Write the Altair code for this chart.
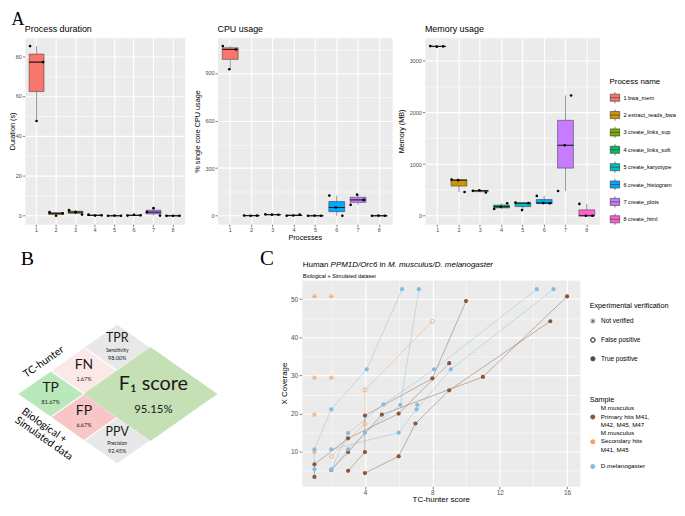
import altair as alt
import pandas as pd

FONT = "Liberation Sans"
SERIF = "Liberation Serif"
DIAG_FONT = "Lato"
PANEL_BG = "#EBEBEB"
TICK_GREY = "#333333"
LABEL_GREY = "#4D4D4D"

# ---------------- Panel A data ----------------
proc_ids = [1, 2, 3, 4, 5, 6, 7, 8]
proc_names = ["1 bwa_mem", "2 extract_reads_bwa", "3 create_links_sup", "4 create_links_soft",
              "5 create_karyotype", "6 create_histogram", "7 create_plots", "8 create_html"]
proc_colors = ["#F8766D", "#CD9600", "#7CAE00", "#00BE67", "#00BFC4", "#00A9FF", "#C77CFF", "#FF61CC"]
run_ids = [1, 2, 3]
duration_s = [[85, 47.5, 77], [1.8, 0.0, 1.2], [2.8, 1.8, 0.6], [0.6, 0.1, 0.2],
              [0.0, 0.1, 0.0], [0.1, 0.5, 0.2], [1.8, 3.8, 0.1], [0.0, 0.0, 0.0]]
cpu_pct = [[1069, 923, 1048], [2, 0, 1], [9, 7, 6], [0, 2, 8],
           [0, 1, 0], [127, 52, 0], [69, 133, 100], [0, 1, 0]]
memory_mb = [[3285, 3275, 3280], [700, 690, 460], [485, 495, 450], [130, 175, 240],
             [255, 110, 245], [385, 245, 240], [480, 1365, 2330], [230, 0, 0]]

# ---------------- Panel B data ----------------
cell_names = ["TP", "FN", "FP", "TPR", "PPV", "F1"]
cell_u = [0, 1, 1, 2, 2, 3]
cell_v = [0, 1, -1, 2, -2, 0]
cell_kind = ["cell", "cell", "cell", "cell", "cell", "big"]
cell_colors = ["#B9E9BA", "#FDE8E8", "#F8C6C6", "#E8E8E8", "#E8E8E8", "#C5E0B4"]
cell_label = ["TP", "FN", "FP", "TPR", "PPV", "F\u2081 score"]
cell_sub = ["", "", "", "Sensitivity", "Precision", ""]
cell_pct = ["81.67%", "1.67%", "6.67%", "98.00%", "92.45%", "95.15%"]

# ---------------- Panel C data ----------------
S_PRIM = "M.musculus\nPrimary hits M41,\nM42, M45, M47"
S_SEC = "M.musculus\nSecondary hits\nM41, M45"
S_DMEL = "D.melanogaster"
sample_names = [S_PRIM, S_SEC, S_DMEL]
sample_colors = ["#87573A", "#F5A15E", "#84BCE0"]
verif_names = ["Not verified", "False positive", "True positive"]

primary_lines = [
    [(1, 3.4), (1, 6.7), (3, 13.5), (6, 20.0), (9, 33.2)],
    [(4, 4.4), (6, 8.8), (7, 17.4), (9, 26.1), (15, 44.2)],
    [(3, 5.0), (4, 9.9), (4, 19.5), (8, 29.2), (10, 49.5)],
    [(2, 5.2), (3, 9.9), (5, 19.7), (11, 29.6), (16, 50.7)],
]
secondary_fp_lines = [
    [(2, 8.8), (4, 17.4), (4, 26.2), (8, 44.2)],
]
secondary_nv_points = [(1, 9.9), (1, 19.7), (1, 29.4), (1, 50.7), (2, 29.4), (2, 50.7)]
dmel_lines = [
    [(1, 5.4), (1, 10.6), (2, 21.1), (4.1, 31.6), (6.2, 52.6)],
    [(2, 5.4), (3, 10.6), (4, 15.0), (6.1, 22.3), (7.2, 52.6)],
    [(2, 5.3), (3, 14.9), (5.1, 22.4), (8.1, 31.6), (14.2, 52.6)],
    [(2, 10.6), (6, 15.0), (7.06, 21.1), (9.1, 31.6), (15.2, 52.6)],
    [(7.1, 22.3)],
]

# ---------------- helpers ----------------
def major_test(majors):
    return "indexof([" + ",".join(repr(m) for m in majors) + "], datum.value) >= 0"


def grid_axis(title, majors, minors, label_size, title_size, tick_size=2.5, label_pad=1, **kw):
    t = major_test(majors)
    return alt.Axis(
        title=title, values=sorted(majors + minors), format="d",
        labelExpr=f"({t}) ? datum.label : ''", labelOverlap=False,
        grid=True, gridColor="white",
        gridWidth={"condition": {"test": t, "value": 1.1}, "value": 0.55},
        tickOpacity={"condition": {"test": t, "value": 1}, "value": 0},
        tickColor=TICK_GREY, tickSize=tick_size, tickWidth=0.6, domain=False,
        labelFont=FONT, labelFontSize=label_size, labelColor=LABEL_GREY, labelPadding=label_pad,
        titleFont=FONT, titleFontSize=title_size, titleFontWeight="normal", titleColor="black",
        **kw)


def proc_x_axis(**kw):
    return alt.Axis(labelAngle=0, bandPosition=0.5, grid=True, gridColor="white", gridWidth=1.1,
                    tickColor=TICK_GREY, tickSize=2.5, tickWidth=0.6, domain=False,
                    labelFont=FONT, labelFontSize=5.5, labelColor=LABEL_GREY, labelPadding=0.5,
                    titleFont=FONT, titleFontSize=7.3, titleFontWeight="normal", titleColor="black", **kw)


def free_text(txt, x, y, size, angle=0, font=DIAG_FONT, baseline="middle", align="center",
              style="normal", color="black"):
    return alt.Chart(pd.DataFrame({"t": [txt]})).mark_text(
        font=font, fontSize=size, angle=angle, baseline=baseline, align=align, fontStyle=style,
        color=color).encode(x=alt.value(x), y=alt.value(y), text="t:N")


def long_df(values):
    rows = []
    for pid, name, vals in zip(proc_ids, proc_names, values):
        for r, v in zip(run_ids, vals):
            rows.append({"proc": pid, "name": name, "run": r, "value": v})
    return pd.DataFrame(rows)


def box_panel(values, title, ytitle, title_x, width, majors, minors, box_w,
              legend=None, xtitle=None, letter=None):
    df = long_df(values)
    flat = [v for vs in values for v in vs]
    lo, hi = min(flat), max(flat)
    pad = 0.05 * (hi - lo)
    ysc = alt.Scale(domain=[lo - pad, hi + pad], nice=False, zero=False)
    yax = grid_axis(ytitle, majors, minors, 5.5, 7.3, titleX=title_x, titleAngle=270,
                    titleBaseline="bottom")
    if xtitle:
        xax = proc_x_axis(title=xtitle, titleY=9.5, titleBaseline="top")
    else:
        xax = proc_x_axis(title=None)
    xenc = alt.X("proc:O", scale=alt.Scale(paddingInner=0, paddingOuter=0.1), axis=xax)
    base = alt.Chart(df)
    agg = base.transform_aggregate(q1="q1(value)", q3="q3(value)", med="median(value)",
                                   lo="min(value)", hi="max(value)", groupby=["proc", "name"])
    fill_scale = alt.Scale(domain=proc_names, range=proc_colors)
    if legend is not None:
        fill = alt.Fill("name:N", scale=fill_scale, legend=legend)
    else:
        fill = alt.Fill("name:N", scale=fill_scale, legend=None)
    rule = agg.mark_rule(color="#555555", strokeWidth=0.6).encode(
        x=xenc, y=alt.Y("lo:Q", scale=ysc, axis=yax), y2="hi:Q")
    box = agg.mark_bar(size=box_w, stroke=TICK_GREY, strokeWidth=0.5).encode(
        x=xenc, y=alt.Y("q1:Q", scale=ysc, axis=yax), y2="q3:Q", fill=fill)
    med = agg.mark_tick(size=box_w, thickness=1.1, color="#1A1A1A", opacity=1).encode(
        x=xenc, y=alt.Y("med:Q", scale=ysc, axis=yax))
    pts = base.mark_circle(size=7, color="black", opacity=1).encode(
        x=xenc, xOffset=alt.XOffset("run:O"), y=alt.Y("value:Q", scale=ysc, axis=yax))
    layers = [rule, box, med, pts, free_text(title, 0, -9, 9, font=FONT, align="left")]
    if letter:
        layers.append(free_text(letter, -7, -27, 18, font=SERIF, baseline="top"))
    return alt.layer(*layers).properties(
        width=width, height=188,
        view=alt.ViewBackground(fill=PANEL_BG, stroke="transparent"))


KEY_GLYPH = "M-1,-0.75H1V0.75H-1ZM-1,0H1M0,-1.2V-0.75M0,0.75V1.2"
proc_legend = alt.Legend(title="Process name", orient="none", legendX=186, legendY=41,
                         titleFont=FONT, titleFontSize=8, titleFontWeight="normal", titleColor="black",
                         labelFont=FONT, labelFontSize=5.7, labelColor="black",
                         symbolType=KEY_GLYPH, symbolSize=90, symbolStrokeColor=TICK_GREY,
                         symbolStrokeWidth=0.6, rowPadding=2.5, labelOffset=3, titlePadding=6,
                         padding=0)

a1 = box_panel(duration_s, "Process duration", "Duration (s)", -8, 161,
               [0, 20, 40, 60, 80], [10, 30, 50, 70], 15, letter="A")
a2 = box_panel(cpu_pct, "CPU usage", "% single core CPU usage", -16.4, 176,
               [0, 300, 600, 900], [150, 450, 750, 1050], 16, xtitle="Processes")
a3 = box_panel(memory_mb, "Memory usage", "Memory (MB)", -19.4, 176,
               [0, 1000, 2000, 3000], [500, 1500, 2500], 16, legend=proc_legend)

# ---------------- Panel B ----------------
ROW2_H = 208
B_W = 246
A_STEP, B_STEP = 33.5, 23.5
CX0, CY0 = 26, 115          # pixel position of the TP cell inside panel B
U0 = -CX0 / A_STEP
U1 = (B_W - CX0) / A_STEP
V1 = CY0 / B_STEP
V0 = -(ROW2_H - CY0) / B_STEP
DIAMOND = "M-1,0L0,-0.7L1,0L0,0.7Z"

cell_df = pd.DataFrame({"cell": cell_names, "u": cell_u, "v": cell_v, "kind": cell_kind,
                        "label": cell_label, "sub": cell_sub, "pct": cell_pct})
bx = alt.X("u:Q", scale=alt.Scale(domain=[U0, U1], nice=False, zero=False), axis=None)
by = alt.Y("v:Q", scale=alt.Scale(domain=[V0, V1], nice=False, zero=False), axis=None)

diamonds = alt.Chart(cell_df).mark_point(shape=DIAMOND, filled=True, opacity=1, strokeWidth=0).encode(
    x=bx, y=by,
    fill=alt.Fill("cell:N", scale=alt.Scale(domain=cell_names, range=cell_colors), legend=None),
    size=alt.Size("kind:N", scale=alt.Scale(domain=["cell", "big"], range=[4225, 18225]), legend=None))


def cell_text(field, cells, size, dy, dx=0):
    return alt.Chart(cell_df).transform_filter(
        alt.FieldOneOfPredicate(field="cell", oneOf=cells)).mark_text(
        font=DIAG_FONT, fontSize=size, dy=dy, dx=dx, color="#1A1A1A", baseline="middle",
        align="center").encode(x=bx, y=by, text=f"{field}:N")


b = alt.layer(
    diamonds,
    cell_text("label", ["TP", "FN", "FP"], 14, -6),
    cell_text("pct", ["TP", "FN", "FP"], 5.5, 8),
    cell_text("label", ["TPR", "PPV"], 12.5, -9),
    cell_text("sub", ["TPR", "PPV"], 5, 2.5),
    cell_text("pct", ["TPR", "PPV"], 5.5, 10.5),
    cell_text("label", ["F1"], 20, -10, 3),
    cell_text("pct", ["F1"], 11.5, 16, 3),
    free_text("TC-hunter", 19, 83, 10.5, angle=325),
    free_text("Biological +", 19.5, 147, 10.5, angle=35),
    free_text("Simulated data", 19, 160, 10.5, angle=35),
    free_text("B", 2.5, -15, 20, font=SERIF, baseline="alphabetic"),
).properties(width=B_W, height=ROW2_H, view=alt.ViewBackground(fill="white", stroke="transparent"))

# ---------------- Panel C ----------------
rows = []
gid = 0


def add_lines(lines, sample, verif):
    global gid
    for line in lines:
        gid += 1
        for seq, (x, y) in enumerate(line):
            rows.append({"group": gid, "seq": seq, "x": x, "y": y, "sample": sample, "verif": verif})


add_lines(primary_lines, S_PRIM, "True positive")
add_lines(secondary_fp_lines, S_SEC, "False positive")
add_lines([[p] for p in secondary_nv_points], S_SEC, "Not verified")
add_lines(dmel_lines, S_DMEL, "True positive")
cdf = pd.DataFrame(rows)

xs, ys = cdf["x"].tolist(), cdf["y"].tolist()
xpad = 0.05 * (max(xs) - min(xs))
ypad = 0.05 * (max(ys) - min(ys))
cxs = alt.Scale(domain=[min(xs) - xpad, max(xs) + xpad], nice=False, zero=False)
cys = alt.Scale(domain=[min(ys) - ypad, max(ys) + ypad], nice=False, zero=False)
cxax = grid_axis("TC-hunter score", [4, 8, 12, 16], [2, 6, 10, 14], 6.5, 8, tick_size=2.75,
                 label_pad=0.5, titleY=9.5, titleBaseline="top")
cyax = grid_axis("X Coverage", [10, 20, 30, 40, 50], [5, 15, 25, 35, 45, 55], 6.5, 8,
                 tick_size=2.75, label_pad=1.5, titleX=-13, titleAngle=270, titleBaseline="bottom")

ASTERISK = "M-1.2,0L1.2,0M0,-1.2L0,1.2M-0.85,-0.85L0.85,0.85M-0.85,0.85L0.85,-0.85"
RING = ("M1.1,0A1.1,1.1,0,1,1,-1.1,0A1.1,1.1,0,1,1,1.1,0Z"
        "M0.8,0A0.8,0.8,0,1,0,-0.8,0A0.8,0.8,0,1,0,0.8,0Z")
# legend key for multi-line labels: a dot drawn one text line lower (on the middle line)
LEG_DOT = "M1.07,3.7A1.07,1.07,0,1,1,-1.07,3.7A1.07,1.07,0,1,1,1.07,3.7Z"

samp_scale = alt.Scale(domain=sample_names, range=sample_colors)
# same colours for the stroke channel (listed in another order so that it stays a separate scale)
samp_stroke_scale = alt.Scale(domain=sample_names[::-1], range=sample_colors[::-1])
shape_scale = alt.Scale(domain=verif_names, range=[ASTERISK, RING, "circle"])
shape_legend = alt.Legend(title="Experimental verification", orient="none", legendX=290,
                          legendY=22, titleFont=FONT, titleFontSize=7.3, titleFontWeight="normal",
                          titleColor="black", labelFont=FONT, labelFontSize=6.5, labelColor="black",
                          symbolFillColor="#4D4D4D", symbolStrokeColor="#4D4D4D",
                          symbolStrokeWidth=0.7, symbolSize=20, rowPadding=10, labelOffset=5,
                          titlePadding=9, padding=0)
sample_legend = alt.Legend(title="Sample", orient="none", legendX=290, legendY=117,
                           titleFont=FONT, titleFontSize=7.3, titleFontWeight="normal",
                           titleColor="black", labelFont=FONT, labelFontSize=6.3,
                           labelColor="black",
                           labelExpr="indexof(datum.label, '\\n') >= 0 ? split(datum.label, '\\n') : ['', datum.label, '']",
                           symbolType=LEG_DOT, symbolSize=22, symbolStrokeWidth=0,
                           gridAlign="all", rowPadding=1, labelOffset=5, titlePadding=2,
                           padding=0)
cx_enc = alt.X("x:Q", scale=cxs, axis=cxax)
cy_enc = alt.Y("y:Q", scale=cys, axis=cyax)

lines = alt.Chart(cdf).mark_line(strokeWidth=0.8, opacity=0.55).encode(
    x=cx_enc, y=cy_enc,
    stroke=alt.Stroke("sample:N", scale=samp_stroke_scale, legend=None),
    detail="group:N", order="seq:Q")

stars = alt.Chart(cdf).transform_filter(alt.datum.verif == "Not verified").mark_point(
    shape=ASTERISK, filled=False, size=18, strokeWidth=0.7, opacity=1).encode(
    x=cx_enc, y=cy_enc,
    stroke=alt.Stroke("sample:N", scale=samp_stroke_scale, legend=None))

dots = alt.Chart(cdf).mark_point(filled=True, size=18, opacity=1).encode(
    x=cx_enc, y=cy_enc,
    shape=alt.Shape("verif:N", scale=shape_scale, legend=shape_legend),
    color=alt.Color("sample:N", scale=samp_scale, legend=sample_legend))

# title of panel C with italic parts
ARIAL_W = {' ': 0.278, 'H': 0.722, 'u': 0.556, 'm': 0.833, 'a': 0.556, 'n': 0.556, 'P': 0.667,
           'M': 0.833, '1': 0.556, 'D': 0.722, '/': 0.278, 'O': 0.778, 'r': 0.333, 'c': 0.5,
           '6': 0.556, 'i': 0.222, '.': 0.278, 's': 0.5, 'l': 0.222, 'e': 0.556, 'o': 0.556,
           'g': 0.556, 't': 0.278}
TITLE_SIZE = 8
title_parts = [("Human", "normal"), ("PPM1D/Orc6", "italic"), ("in", "normal"),
               ("M. musculus/D. melanogaster", "italic")]
title_layers = []
cx = 1.0
for txt, style in title_parts:
    title_layers.append(free_text(txt, cx, -15, TITLE_SIZE, font=FONT, align="left", style=style))
    cx += sum(ARIAL_W.get(ch, 0.556) for ch in txt + " ") * TITLE_SIZE

c = alt.layer(
    lines, stars, dots, *title_layers,
    free_text("Biological + Simulated dataset", 1, -4, 5.5, font=FONT, align="left"),
    free_text("C", -35, -15, 21, font=SERIF, baseline="alphabetic"),
).properties(width=280, height=ROW2_H, view=alt.ViewBackground(fill=PANEL_BG, stroke="transparent"))

RES = dict(fill="independent", color="independent", stroke="independent", shape="independent",
           size="independent")

row1 = alt.hconcat(a1, a2, a3, spacing=33, bounds="flush").resolve_scale(**RES).resolve_legend(**RES)
row2 = alt.hconcat(b, c, spacing=33, bounds="flush").resolve_scale(**RES).resolve_legend(**RES)
chart = alt.vconcat(row1, row2, spacing=5).resolve_scale(**RES).resolve_legend(**RES).properties(
    padding=0, background="white")

chart.save("out.html", embed_options={"renderer": "svg", "actions": False})
